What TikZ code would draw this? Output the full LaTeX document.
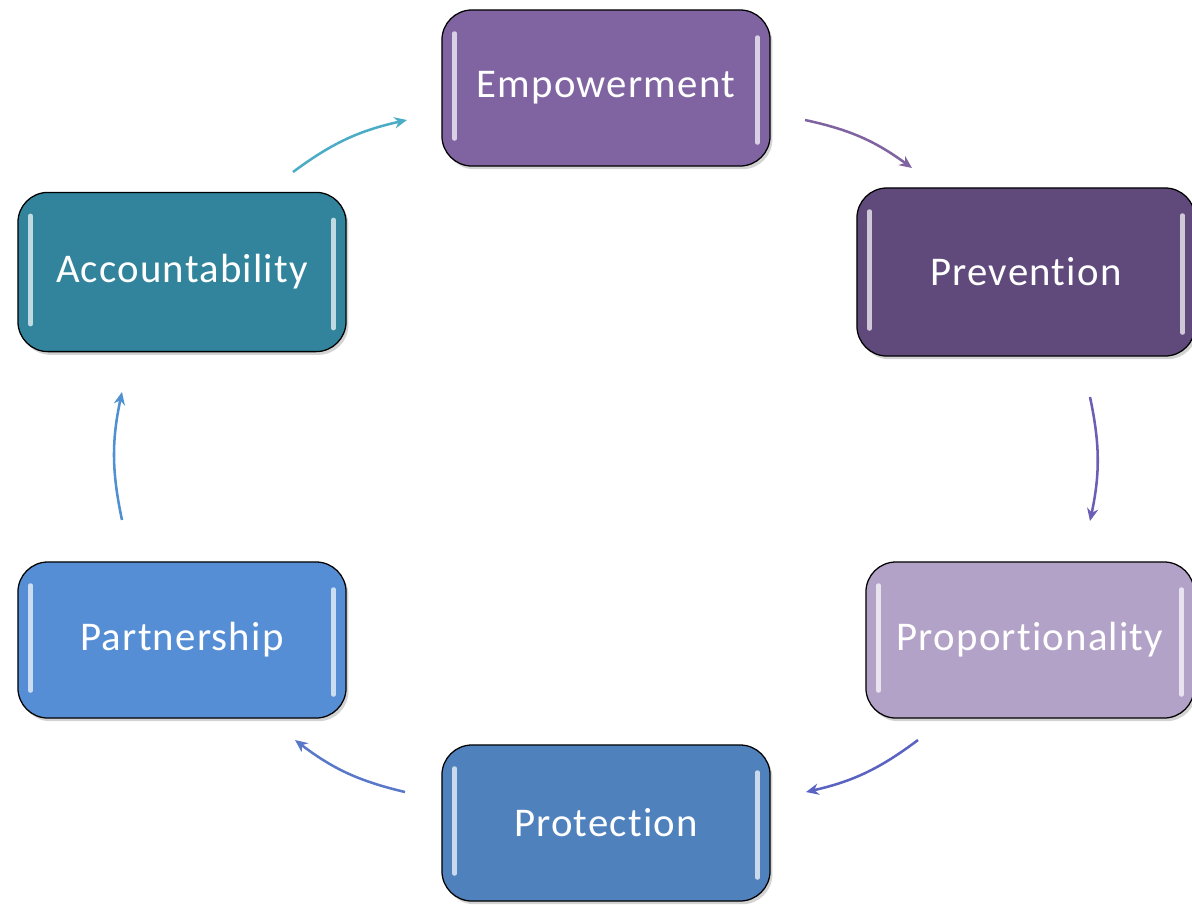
\documentclass[tikz,border=0pt]{standalone}
\usepackage{fontspec}
\setmainfont{Carlito}[Ligatures=NoCommon,LetterSpace=3]
\usetikzlibrary{arrows.meta,shadows}
\definecolor{cEmp}{HTML}{8064A2}
\definecolor{cPrev}{HTML}{604A7B}
\definecolor{cAcc}{HTML}{31849B}
\definecolor{cPart}{HTML}{558ED5}
\definecolor{cProp}{HTML}{B3A2C7}
\definecolor{cProt}{HTML}{4F81BD}
\definecolor{aA}{HTML}{4BACC6}
\definecolor{aB}{HTML}{8064A2}
\definecolor{aC}{HTML}{6A5FB5}
\definecolor{aD}{HTML}{5B63C2}
\definecolor{aE}{HTML}{5A78C8}
\definecolor{aF}{HTML}{4F90D0}
\tikzset{
  box/.style={draw=black, line width=0.9pt, rounded corners=0.75cm,
    minimum width=8.2cm, minimum height=3.9cm, text=white,
    font=\fontsize{29}{32}\selectfont,
    drop shadow={shadow xshift=0.06cm, shadow yshift=-0.08cm, opacity=0.35}},
  gloss/.style={white, opacity=0.7, line width=3pt, line cap=round},
  cyc/.style={line width=1.8pt, -{Stealth[length=9pt,width=8pt]}, bend left=12},
}
\newcommand{\glossbox}[1]{%
  \draw[gloss] ([xshift=0.33cm,yshift=-0.6cm]#1.north west) -- ([xshift=0.33cm,yshift=0.7cm]#1.south west);
  \draw[gloss] ([xshift=-0.33cm,yshift=-0.7cm]#1.north east) -- ([xshift=-0.33cm,yshift=0.6cm]#1.south east);
}
\begin{document}
\begin{tikzpicture}[x=0.025cm,y=0.025cm]
\useasboundingbox (0,0) rectangle (1192,-904);
\node[box, fill=cEmp] (emp) at (606,-88) {Empowerment};
\node[box, fill=cPrev, minimum width=8.45cm, minimum height=4.2cm] (prev) at (1026,-272) {Prevention};
\node[box, fill=cAcc, minimum height=3.98cm] (acc) at (182,-272) {Accountability};
\node[box, fill=cPart] (part) at (182,-640) {Partnership};
\node[box, fill=cProp] (prop) at (1030,-640) {Proportionality};
\node[box, fill=cProt] (prot) at (606,-823) {Protection};
\glossbox{emp}\glossbox{prev}\glossbox{acc}\glossbox{part}\glossbox{prop}\glossbox{prot}
\coordinate (a1) at (293,-172); \coordinate (b1) at (407,-120);
\coordinate (a2) at (805,-120); \coordinate (b2) at (912,-168);
\coordinate (a3) at (1090,-397); \coordinate (b3) at (1090,-521);
\coordinate (a4) at (918,-740); \coordinate (b4) at (806,-792);
\coordinate (a5) at (405,-792); \coordinate (b5) at (295,-740);
\coordinate (a6) at (122,-520); \coordinate (b6) at (122,-392);
\draw[cyc, aA] (a1) to (b1);
\draw[cyc, aB] (a2) to (b2);
\draw[cyc, aC] (a3) to (b3);
\draw[cyc, aD] (a4) to (b4);
\draw[cyc, aE] (a5) to (b5);
\draw[cyc, aF] (a6) to (b6);
\end{tikzpicture}
\end{document}
